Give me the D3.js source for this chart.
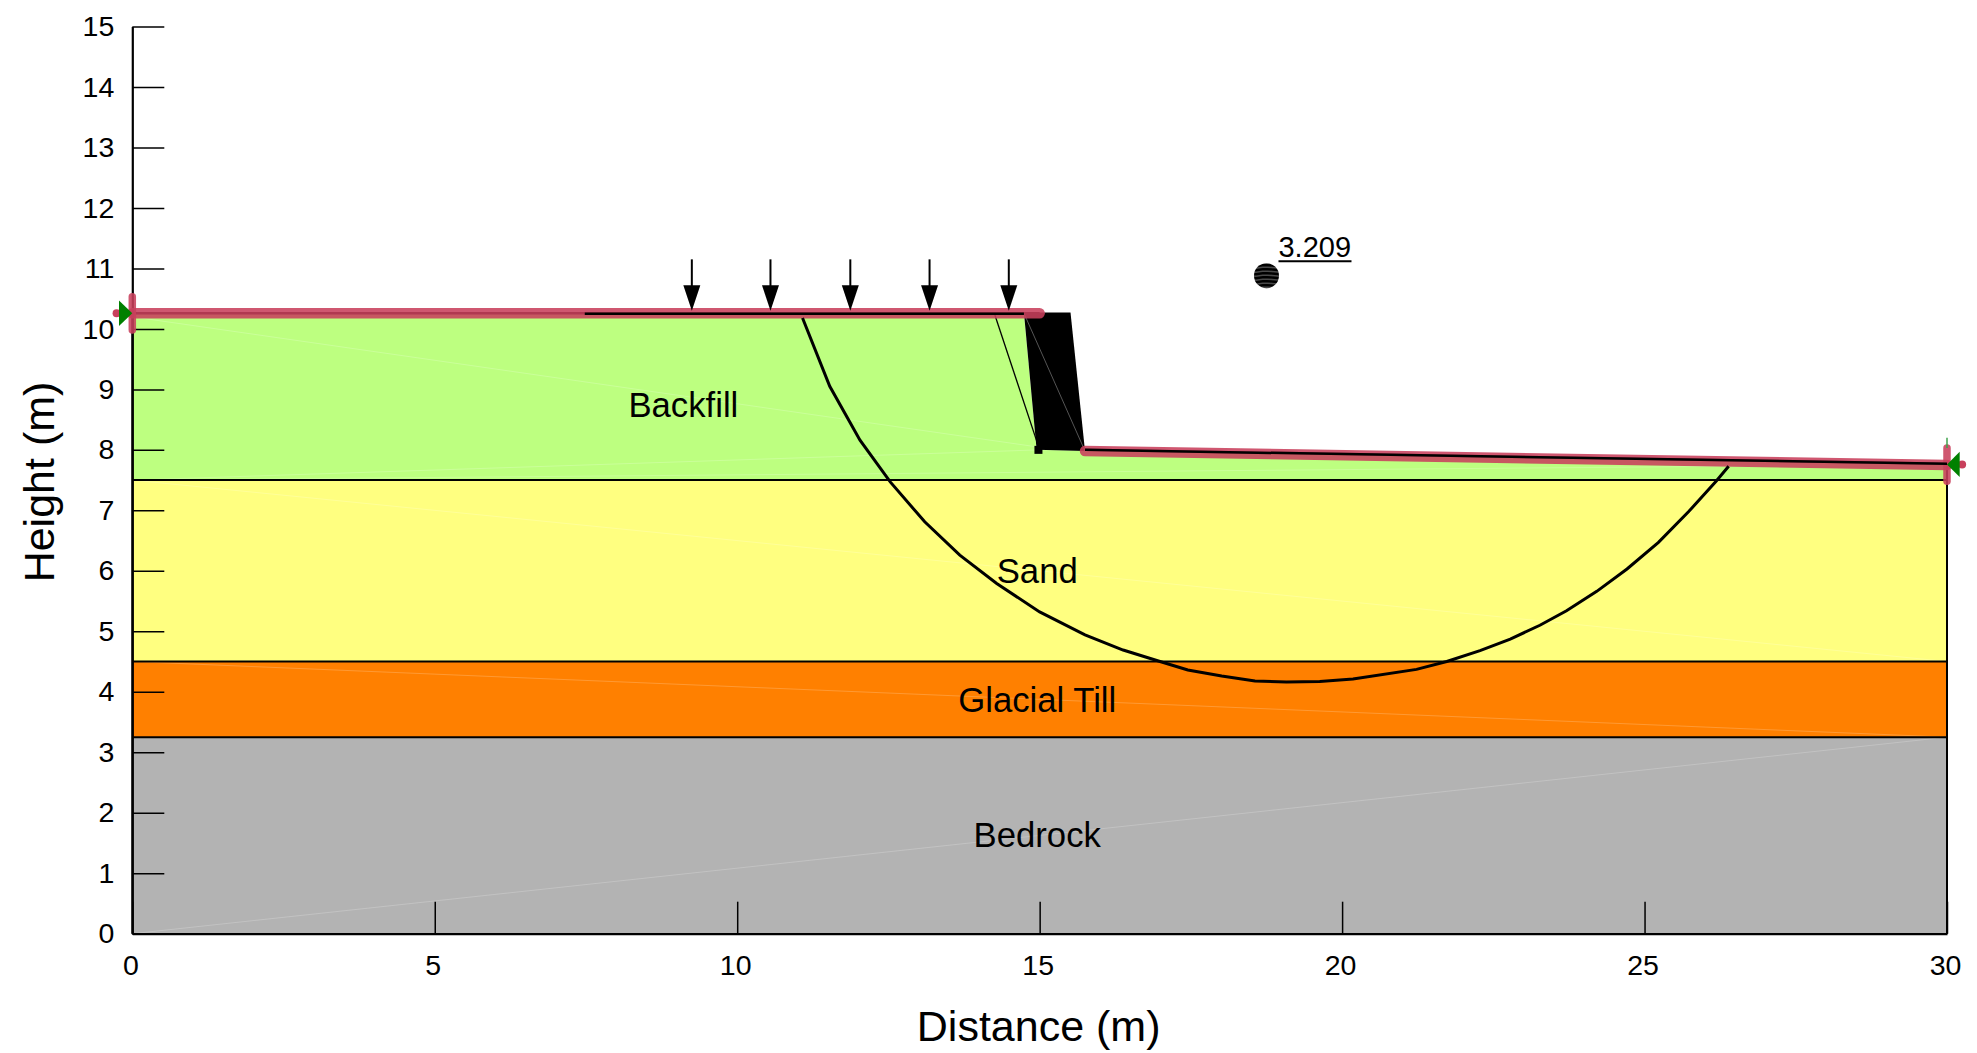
<!DOCTYPE html>
<html>
<head>
<meta charset="utf-8">
<title>Slope stability section</title>
<script src="https://cdn.jsdelivr.net/npm/d3@7"></script>
<style>
    body { margin: 0; background: #fff; }
    text { font-family: "Liberation Sans", Arial, sans-serif; fill: #000; }
    .axis path, .axis line { stroke: #000; }
    .axis line { stroke-width: 1.5; }
    .axis path { stroke-width: 2.2; }
    .axis text { font-size: 28.5px; }
</style>
</head>
<body>
<div class="chart"></div>
<script>
const xTicks = [0, 5, 10, 15, 20, 25, 30];
const yTicks = [0, 1, 2, 3, 4, 5, 6, 7, 8, 9, 10, 11, 12, 13, 14, 15];

const layerNames = ["Bedrock", "Glacial Till", "Sand", "Backfill"];
const layerColors = ["#b3b3b3", "#ff8000", "#ffff80", "#bdff80"];
const layerLabelAt = [[14.96, 1.43], [14.96, 3.67], [14.96, 5.80], [9.11, 8.54]];
const bedrock = [[0, 0], [30, 0], [30, 3.25], [0, 3.25]];
const till = [[0, 3.25], [30, 3.25], [30, 4.5], [0, 4.5]];
const sand = [[0, 4.5], [30, 4.5], [30, 7.5], [0, 7.5]];
const backfill = [[0, 7.5], [30, 7.5], [30, 7.76], [15.75, 7.99], [14.95, 8.0], [14.74, 10.26], [0, 10.26]];
const layers = [bedrock, till, sand, backfill];

// faint seams between the fill triangles
const seams = [
    [[0, 0], [30, 3.25]],
    [[0, 4.5], [30, 3.25]],
    [[0, 7.5], [30, 4.5]],
    [[0, 10.2], [14.95, 8.05]],
    [[0, 7.5], [15, 8.0]],
    [[15, 8.0], [30, 7.76]],
    [[0, 7.5], [30, 7.76]]
];

const wall = [[14.74, 10.27], [15.51, 10.27], [15.75, 7.98], [14.95, 8.0]];
const wallDiagonal = [[14.74, 10.26], [15.75, 7.98]];
const anchorLine = [[14.26, 10.23], [14.97, 8.09]];
const anchorBlock = [14.98, 8.0];

const surfaceLeft = [[0, 10.26], [15.0, 10.26]];
const surfaceRight = [[15.75, 7.98], [30, 7.75]];
const blackLeft = [[7.48, 10.25], [14.74, 10.25]];
const blackRight = [[15.75, 8.0], [30, 7.77]];
const edgeLeft = [[0, 10.53], [0, 9.98]];
const edgeRight = [[30, 8.03], [30, 7.48]];
const greenTick = [[30, 8.2], [30, 8.03]];
const limitDots = [[-0.26, 10.26], [30.25, 7.76]];
const limitLeft = [[-0.22, 10.47], [-0.22, 10.05], [0, 10.26]];
const limitRight = [[30.21, 7.97], [30.21, 7.55], [30, 7.76]];

const loadX = [9.25, 10.55, 11.87, 13.18, 14.49];
const loadTop = 11.15;
const loadTip = 10.3;

const slipCircle = [
    [11.08, 10.18], [11.53, 9.05], [12.03, 8.16], [12.53, 7.47], [13.10, 6.81], [13.68, 6.26],
    [14.29, 5.79], [15.00, 5.32], [15.75, 4.94], [16.38, 4.69], [16.99, 4.50], [17.45, 4.36],
    [18.01, 4.26], [18.56, 4.18], [19.08, 4.16], [19.63, 4.17], [20.18, 4.21], [21.23, 4.37],
    [21.73, 4.50], [22.28, 4.68], [22.78, 4.87], [23.27, 5.10], [23.71, 5.34], [24.21, 5.66],
    [24.71, 6.03], [25.23, 6.47], [25.73, 6.98], [26.19, 7.49], [26.39, 7.73]
];
const slipCentre = [18.75, 10.88];
const factorOfSafety = "3.209";

const w = 1977,
    h = 1053;

const xScale = d3.scaleLinear().domain([0, 30]).range([132.3, 1947]);
const yScale = d3.scaleLinear().domain([0, 15]).range([933.7, 26.5]);

const line = d3.line().x(d => xScale(d[0])).y(d => yScale(d[1]));

const svg = d3.select(".chart")
    .append("svg")
    .attr("width", w)
    .attr("height", h)
    .style("display", "block");

const defs = svg.append("defs");
const stripes = defs.append("pattern")
    .attr("id", "stripes")
    .attr("patternUnits", "userSpaceOnUse")
    .attr("width", 24)
    .attr("height", 4);
stripes.append("rect").attr("width", 24).attr("height", 4).attr("fill", "#4a4a4a");
stripes.append("path").attr("d", "M0,1.5 L8,2.3 L16,1 L24,1.5").attr("stroke", "#000").attr("stroke-width", 2.4).attr("fill", "none");

svg.selectAll("path.layer")
    .data(layers)
    .enter()
    .append("path")
    .attr("class", "layer")
    .attr("d", d => line(d) + "Z")
    .attr("fill", (d, i) => layerColors[i]);

svg.selectAll("path.seam")
    .data(seams)
    .enter()
    .append("path")
    .attr("class", "seam")
    .attr("d", line)
    .attr("fill", "none")
    .attr("stroke", "#fff")
    .attr("stroke-opacity", 0.2)
    .attr("stroke-width", 1);

// layer boundaries
svg.selectAll("path.boundary")
    .data([[[0, 3.25], [30, 3.25]], [[0, 4.5], [30, 4.5]], [[0, 7.5], [30, 7.5]], [[30, 0], [30, 7.76]], [[0, 0], [0, 10.26]]])
    .enter()
    .append("path")
    .attr("class", "boundary")
    .attr("d", line)
    .attr("fill", "none")
    .attr("stroke", "#000")
    .attr("stroke-width", 2);

const xAxis = d3.axisBottom(xScale).tickValues(xTicks).tickSize(-32).tickSizeOuter(0).tickPadding(21);
const yAxis = d3.axisLeft(yScale).tickValues(yTicks).tickSize(-32).tickSizeOuter(0).tickPadding(18);

svg.append("g")
    .attr("class", "axis")
    .attr("transform", "translate(0," + yScale(0) + ")")
    .call(xAxis)
    .selectAll("text")
    .attr("dx", "-2");
svg.append("g")
    .attr("class", "axis")
    .attr("transform", "translate(" + xScale(0) + ",0)")
    .call(yAxis);

svg.append("path").attr("d", line(wall) + "Z").attr("fill", "#000");
svg.append("path").attr("d", line(wallDiagonal)).attr("stroke", "#555").attr("stroke-width", 1).attr("fill", "none");
svg.append("path").attr("d", line(anchorLine)).attr("stroke", "#000").attr("stroke-width", 1.3).attr("fill", "none");
svg.append("rect")
    .attr("x", xScale(anchorBlock[0]) - 4)
    .attr("y", yScale(anchorBlock[1]) - 4)
    .attr("width", 8)
    .attr("height", 8)
    .attr("fill", "#000");

// ground surface, dark core under the translucent red
svg.selectAll("path.core")
    .data([surfaceLeft, blackRight])
    .enter()
    .append("path")
    .attr("class", "core")
    .attr("d", line)
    .attr("stroke", "#000")
    .attr("stroke-width", 2.5)
    .attr("fill", "none");
svg.selectAll("path.red")
    .data([surfaceLeft, surfaceRight, edgeLeft, edgeRight])
    .enter()
    .append("path")
    .attr("class", "red")
    .attr("d", line)
    .attr("stroke", "#c8405c")
    .attr("stroke-opacity", 0.88)
    .attr("stroke-width", d => d[0][0] === d[1][0] ? 7.5 : 10.5)
    .attr("stroke-linecap", "round")
    .attr("fill", "none");
svg.selectAll("path.black")
    .data([blackLeft, blackRight])
    .enter()
    .append("path")
    .attr("class", "black")
    .attr("d", line)
    .attr("stroke", "#000")
    .attr("stroke-width", 2.5)
    .attr("fill", "none");

svg.selectAll("circle.dot")
    .data(limitDots)
    .enter()
    .append("circle")
    .attr("class", "dot")
    .attr("cx", d => xScale(d[0]))
    .attr("cy", d => yScale(d[1]))
    .attr("r", 4)
    .attr("fill", "#c8405c");
svg.selectAll("path.limit")
    .data([limitLeft, limitRight])
    .enter()
    .append("path")
    .attr("class", "limit")
    .attr("d", d => line(d) + "Z")
    .attr("fill", "#008000");
svg.append("path").attr("d", line(greenTick)).attr("stroke", "#3fa34d").attr("stroke-width", 1.5).attr("fill", "none");

// distributed load arrows
const loads = svg.selectAll("g.load")
    .data(loadX)
    .enter()
    .append("g")
    .attr("class", "load");
loads.append("line")
    .attr("x1", d => xScale(d))
    .attr("x2", d => xScale(d))
    .attr("y1", yScale(loadTop))
    .attr("y2", yScale(loadTip) - 20)
    .attr("stroke", "#000")
    .attr("stroke-width", 2);
loads.append("path")
    .attr("d", d => "M" + (xScale(d) - 8.5) + "," + (yScale(loadTip) - 25.5) + "h17L" + xScale(d) + "," + yScale(loadTip) + "Z")
    .attr("fill", "#000");

svg.append("path")
    .attr("d", line(slipCircle))
    .attr("stroke", "#000")
    .attr("stroke-width", 3)
    .attr("fill", "none");

svg.append("circle")
    .attr("cx", xScale(slipCentre[0]))
    .attr("cy", yScale(slipCentre[1]))
    .attr("r", 12.5)
    .attr("fill", "url(#stripes)");
svg.append("text")
    .attr("x", xScale(slipCentre[0]) + 12)
    .attr("y", yScale(slipCentre[1]) - 19)
    .attr("font-size", 29)
    .text(factorOfSafety);
svg.append("line")
    .attr("x1", xScale(slipCentre[0]) + 12)
    .attr("x2", xScale(slipCentre[0]) + 85)
    .attr("y1", yScale(slipCentre[1]) - 14.5)
    .attr("y2", yScale(slipCentre[1]) - 14.5)
    .attr("stroke", "#000")
    .attr("stroke-width", 2);

svg.selectAll("text.name")
    .data(layerNames)
    .enter()
    .append("text")
    .attr("class", "name")
    .attr("x", (d, i) => xScale(layerLabelAt[i][0]))
    .attr("y", (d, i) => yScale(layerLabelAt[i][1]))
    .attr("text-anchor", "middle")
    .attr("font-size", 34.7)
    .text(d => d);

svg.append("text")
    .attr("x", xScale(15) - 1)
    .attr("y", 1040.5)
    .attr("text-anchor", "middle")
    .attr("font-size", 43)
    .text("Distance (m)");
svg.append("text")
    .attr("transform", "translate(54,482) rotate(-90)")
    .attr("text-anchor", "middle")
    .attr("font-size", 43)
    .text("Height (m)");
</script>
</body>
</html>
